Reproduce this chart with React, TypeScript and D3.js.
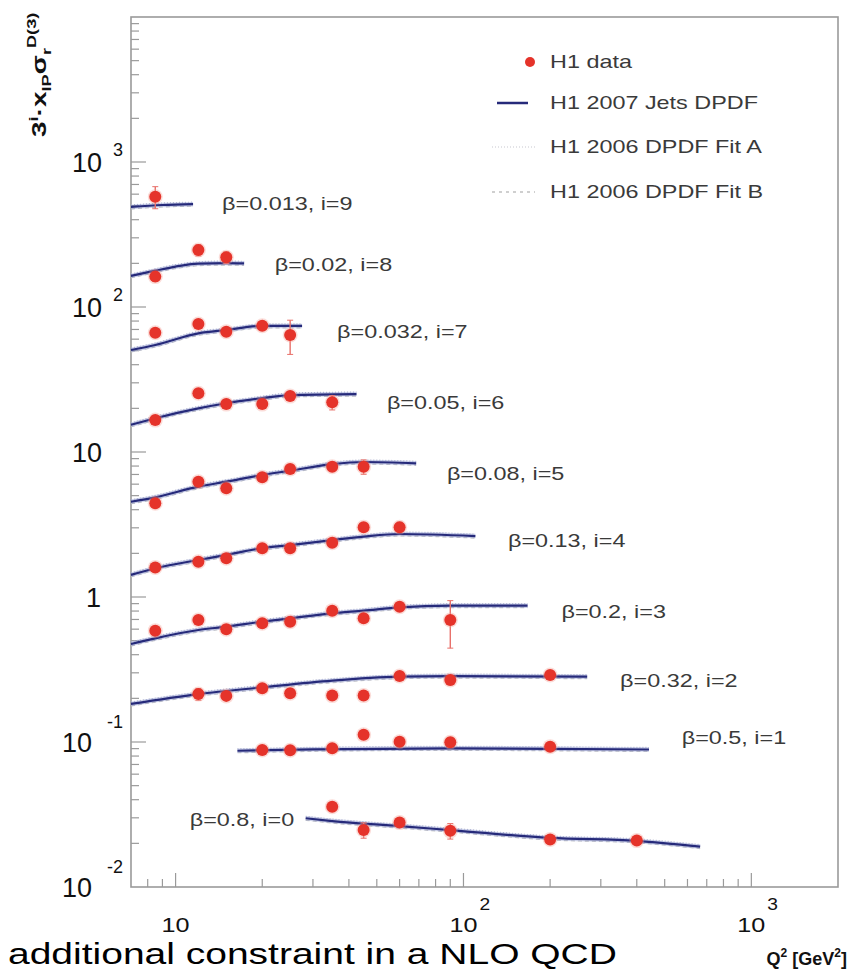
import React from "react";
import * as d3 from "d3";

// ---------- data ----------
const seriesIds = [9, 8, 7, 6, 5, 4, 3, 2, 1, 0];
const betaLabels = [
  "β=0.013, i=9",
  "β=0.02, i=8",
  "β=0.032, i=7",
  "β=0.05, i=6",
  "β=0.08, i=5",
  "β=0.13, i=4",
  "β=0.2, i=3",
  "β=0.32, i=2",
  "β=0.5, i=1",
  "β=0.8, i=0",
];
// label anchor (Q2, value) for each series label
const labelQ2 = [14.5, 22.1, 36.4, 54.2, 87.6, 142.8, 219, 350, 573, 11.2];
const labelVal = [519, 195, 67.3, 21.8, 7.13, 2.47, 0.793, 0.265, 0.107, 0.029];

// H1 data points
const d9Q = [8.5];
const d9V = [576];
const d9E = [100];
const d8Q = [8.5, 12, 15];
const d8V = [162, 247, 220];
const d8E = [12, 22, 20];
const d7Q = [8.5, 12, 15, 20, 25];
const d7V = [66.5, 76.4, 67.6, 74.3, 64.1];
const d7E = [4, 5, 4, 5, 17];
const d6Q = [8.5, 12, 15, 20, 25, 35];
const d6V = [16.6, 25.4, 21.4, 21.4, 24.3, 22.0];
const d6E = [1, 1.5, 1.2, 1.2, 1.5, 2.5];
const d5Q = [8.5, 12, 15, 20, 25, 35, 45];
const d5V = [4.43, 6.24, 5.62, 6.69, 7.63, 7.92, 7.92];
const d5E = [0.3, 0.3, 0.3, 0.3, 0.4, 0.5, 0.9];
const d4Q = [8.5, 12, 15, 20, 25, 35, 45, 60];
const d4V = [1.6, 1.75, 1.85, 2.17, 2.17, 2.37, 3.03, 3.03];
const d4E = [0.08, 0.09, 0.09, 0.1, 0.1, 0.12, 0.18, 0.25];
const d3Q = [8.5, 12, 15, 20, 25, 35, 45, 60, 90];
const d3V = [0.586, 0.694, 0.599, 0.659, 0.676, 0.805, 0.713, 0.857, 0.694];
const d3E = [0.03, 0.04, 0.03, 0.03, 0.03, 0.04, 0.04, 0.05, 0.25];
const d2Q = [12, 15, 20, 25, 35, 45, 60, 90, 200];
const d2V = [0.214, 0.208, 0.235, 0.217, 0.209, 0.209, 0.285, 0.268, 0.29];
const d2E = [0.02, 0.01, 0.012, 0.01, 0.01, 0.012, 0.015, 0.02, 0.015];
const d1Q = [20, 25, 35, 45, 60, 90, 200];
const d1V = [0.0881, 0.0877, 0.0905, 0.112, 0.1005, 0.0995, 0.0929];
const d1E = [0.004, 0.004, 0.004, 0.005, 0.005, 0.008, 0.005];
const d0Q = [35, 45, 60, 90, 200, 400];
const d0V = [0.0358, 0.0247, 0.0278, 0.0244, 0.0213, 0.0209];
const d0E = [0.0015, 0.003, 0.002, 0.003, 0.001, 0.001];

// H1 2007 Jets DPDF curves (knots)
const c9Q = [7, 9, 11.5];
const c9V = [490, 505, 512];
const c8Q = [7, 8.5, 10, 12, 15, 17.3];
const c8V = [164, 178, 190, 199, 201, 200];
const c7Q = [7, 8.5, 12, 15, 20, 27.5];
const c7V = [50.5, 54.7, 65.8, 69.4, 74, 74];
const c6Q = [7, 8.5, 12, 15, 20, 25, 42.5];
const c6V = [15.4, 17.1, 20, 21.7, 23.5, 24.7, 25.1];
const c5Q = [7, 8.5, 12, 15, 20, 25, 35, 45, 68.5];
const c5V = [4.54, 4.87, 5.77, 6.24, 6.94, 7.43, 8.26, 8.53, 8.36];
const c4Q = [7, 8.5, 12, 15, 20, 25, 35, 45, 60, 110];
const c4V = [1.42, 1.58, 1.8, 1.95, 2.17, 2.28, 2.47, 2.61, 2.72, 2.63];
const c3Q = [7, 8.5, 12, 15, 20, 25, 35, 45, 60, 90, 167];
const c3V = [0.474, 0.519, 0.592, 0.624, 0.676, 0.713, 0.772, 0.805, 0.849, 0.871, 0.871];
const c2Q = [7, 12, 20, 35, 60, 90, 269];
const c2V = [0.183, 0.214, 0.238, 0.265, 0.282, 0.285, 0.282];
const c1Q = [16.4, 30, 90, 200, 441];
const c1V = [0.087, 0.089, 0.0905, 0.0898, 0.0888];
const c0Q = [28.3, 35, 60, 90, 200, 400, 664];
const c0V = [0.0298, 0.0285, 0.0263, 0.0247, 0.0218, 0.0208, 0.019];

const dataQ = [d9Q, d8Q, d7Q, d6Q, d5Q, d4Q, d3Q, d2Q, d1Q, d0Q];
const dataV = [d9V, d8V, d7V, d6V, d5V, d4V, d3V, d2V, d1V, d0V];
const dataE = [d9E, d8E, d7E, d6E, d5E, d4E, d3E, d2E, d1E, d0E];
const curveQ = [c9Q, c8Q, c7Q, c6Q, c5Q, c4Q, c3Q, c2Q, c1Q, c0Q];
const curveV = [c9V, c8V, c7V, c6V, c5V, c4V, c3V, c2V, c1V, c0V];

const legendLabels = ["H1 data", "H1 2007 Jets DPDF", "H1 2006 DPDF Fit A", "H1 2006 DPDF Fit B"];
const yLabelExps = [-2, -1, 0, 1, 2, 3];
const xLabelExps = [1, 2, 3];

// ---------- layout ----------
const W = 850;
const H = 972;
const L = 131, R = 838, T = 17, B = 887;
const FONT = "'Liberation Sans', Arial, Helvetica, sans-serif";
const SX = 1.3; // horizontal stretch of the original bitmap text
const RED = "#e5332a";
const NAVY = "#262a7a";
const AXIS = "#9a9a9a";

const x = d3.scaleLog().domain([7, 2000]).range([L, R]);
const y = d3.scaleLog().domain([0.01, 10000]).range([B, T]);

function SText(props: any) {
  const { x: tx, y: ty, anchor = "start", size = 18, sx = SX, fill = "#333", weight = "normal", children } = props;
  return (
    <g transform={`translate(${tx},${ty}) scale(${sx},1)`}>
      <text textAnchor={anchor} fontSize={size} fill={fill} fontWeight={weight} fontFamily={FONT}>
        {children}
      </text>
    </g>
  );
}

const isMajor = (t: number) => Math.abs(Math.log10(t) - Math.round(Math.log10(t))) < 1e-6;

export default function App() {
  const line = d3
    .line<[number, number]>()
    .x((d) => x(d[0]))
    .y((d) => y(d[1]))
    .curve(d3.curveMonotoneX);

  const yTicks = y.ticks().filter((t) => t > 0.01 * 1.0001 && t < 10000 * 0.9999);
  const xTicks = x.ticks().filter((t) => t > 7.0001 && t < 1999);

  return (
    <svg width={W} height={H} style={{ position: "absolute", left: 0, top: 0, background: "#fff" }}>
      <rect x={0} y={0} width={W} height={H} fill="#fff" />

      {/* frame */}
      <rect x={L} y={T} width={R - L} height={B - T} fill="none" stroke={AXIS} strokeWidth={1.6} />

      {/* y ticks */}
      {yTicks.map((t, i) => (
        <line key={"yt" + i} x1={L} x2={L + (isMajor(t) ? 15 : 8)} y1={y(t)} y2={y(t)} stroke={AXIS} strokeWidth={1.2} />
      ))}
      {/* x ticks */}
      {xTicks.map((t, i) => (
        <line key={"xt" + i} x1={x(t)} x2={x(t)} y1={B} y2={B - (isMajor(t) ? 14 : 8)} stroke={AXIS} strokeWidth={1.2} />
      ))}

      {/* y tick labels */}
      {yLabelExps.map((e) => {
        const yy = y(Math.pow(10, e));
        if (e === 0)
          return (
            <text key={"yl" + e} x={101} y={yy + 10} textAnchor="end" fontSize={27} fontFamily={FONT} fill="#111">
              1
            </text>
          );
        if (e === 1)
          return (
            <text key={"yl" + e} x={102} y={yy + 10} textAnchor="end" fontSize={27} fontFamily={FONT} fill="#111">
              10
            </text>
          );
        const neg = e < 0;
        return (
          <g key={"yl" + e}>
            <text x={neg ? 92 : 102} y={yy + 10} textAnchor="end" fontSize={27} fontFamily={FONT} fill="#111">
              10
            </text>
            <text x={123} y={neg ? yy - 14 : yy - 6} textAnchor="end" fontSize={18} fontFamily={FONT} fill="#111">
              {String(e)}
            </text>
          </g>
        );
      })}

      {/* x tick labels */}
      {xLabelExps.map((e) => {
        const xx = x(Math.pow(10, e));
        return (
          <g key={"xl" + e}>
            <SText x={xx} y={932} anchor="middle" size={21} sx={1.2} fill="#111">
              10
            </SText>
            {e > 1 && (
              <SText x={xx + 16} y={910} size={16} sx={1.2} fill="#111">
                {String(e)}
              </SText>
            )}
          </g>
        );
      })}

      {/* axis titles */}
      <text x={847} y={965} textAnchor="end" fontSize={18} fontWeight="bold" fontFamily={FONT} fill="#111">
        Q<tspan dy={-8} fontSize={12}>2</tspan>
        <tspan dy={8}> [GeV</tspan>
        <tspan dy={-8} fontSize={12}>2</tspan>
        <tspan dy={8}>]</tspan>
      </text>
      <text transform="translate(46,137) rotate(-90) scale(1.4,1)" fontSize={20} fontWeight="bold" fontFamily={FONT} fill="#111">
        3<tspan dy={-8} fontSize={13}>i</tspan>
        <tspan dy={8}>·x</tspan>
        <tspan dy={5} fontSize={13}>IP</tspan>
        <tspan dy={-5}>σ</tspan>
        <tspan dy={5} fontSize={13}>r</tspan>
        <tspan dy={-15} fontSize={13}>D(3)</tspan>
      </text>

      {/* fit A / fit B (coincide with the jets fit at this scale) */}
      {curveQ.map((qs, k) => {
        const pts = qs.map((q, j) => [q, curveV[k][j]] as [number, number]);
        return (
          <g key={"fit" + k}>
            <path d={line(pts) || ""} fill="none" stroke="#b9bcd0" strokeWidth={1.2} strokeDasharray="1,2" transform="translate(0,-2)" />
            <path d={line(pts) || ""} fill="none" stroke="#c4c4c4" strokeWidth={1.2} strokeDasharray="4,3" transform="translate(0,2)" />
          </g>
        );
      })}

      {/* jets DPDF curves */}
      {curveQ.map((qs, k) => {
        const pts = qs.map((q, j) => [q, curveV[k][j]] as [number, number]);
        return (
          <g key={"cur" + k}>
            <path d={line(pts) || ""} fill="none" stroke="#8f98d0" strokeWidth={4.5} strokeOpacity={0.45} />
            <path d={line(pts) || ""} fill="none" stroke={NAVY} strokeWidth={2.2} />
          </g>
        );
      })}

      {/* data points */}
      {dataQ.map((qs, k) => (
        <g key={"dat" + k}>
          {qs.map((q, j) => {
            const v = dataV[k][j];
            const e = dataE[k][j];
            const cx = x(q);
            const y1 = y(v + e);
            const y2 = y(Math.max(v - e, 1e-4));
            return (
              <g key={j}>
                <line x1={cx} x2={cx} y1={y1} y2={y2} stroke="#e8706a" strokeWidth={1.4} />
                <line x1={cx - 3} x2={cx + 3} y1={y1} y2={y1} stroke="#e8706a" strokeWidth={1} />
                <line x1={cx - 3} x2={cx + 3} y1={y2} y2={y2} stroke="#e8706a" strokeWidth={1} />
                <circle cx={cx} cy={y(v)} r={7.5} fill="#f39a8e" fillOpacity={0.35} />
                <circle cx={cx} cy={y(v)} r={6} fill={RED} />
              </g>
            );
          })}
        </g>
      ))}

      {/* series labels */}
      {seriesIds.map((id, k) => (
        <SText key={"lab" + id} x={x(labelQ2[k])} y={y(labelVal[k]) + 6.5} size={18} fill="#3a3a3a">
          {betaLabels[k]}
        </SText>
      ))}

      {/* legend */}
      <circle cx={530} cy={62} r={5} fill={RED} />
      <line x1={497} x2={528} y1={103} y2={103} stroke={NAVY} strokeWidth={2.5} />
      <line x1={492} x2={535} y1={147} y2={147} stroke="#c8c8d0" strokeWidth={1.2} strokeDasharray="1,2" />
      <line x1={492} x2={535} y1={192} y2={192} stroke="#c0c0c0" strokeWidth={1.5} strokeDasharray="3,4" />
      {legendLabels.map((s, i) => (
        <SText key={"lg" + i} x={550} y={[68, 109, 153, 198][i]} size={18} fill="#3a3a3a">
          {s}
        </SText>
      ))}

      {/* slide text below the plot */}
      <SText x={8} y={964} size={30} sx={1.3} fill="#000">
        additional constraint in a NLO QCD
      </SText>
    </svg>
  );
}
